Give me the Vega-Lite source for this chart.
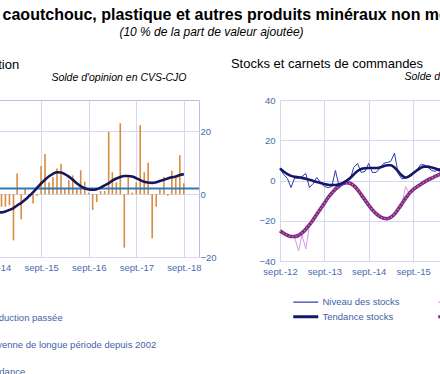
{
  "$schema": "https://vega.github.io/schema/vega-lite/v6.json",
  "background": "white",
  "padding": {"left": -167, "top": 6, "right": 0, "bottom": 0},
  "config": {
    "font": "Liberation Sans",
    "view": {"stroke": "#bdbde8", "strokeWidth": 1},
    "axis": {"gridColor": "#d6d6f3", "domain": false, "ticks": false, "labelColor": "#4a6aae", "labelFontSize": 9.5, "labelPadding": 5, "labelFont": "Liberation Sans"},
    "legend": {"labelColor": "#3f5fa6", "labelFontSize": 9.5, "labelFont": "Liberation Sans", "symbolType": "stroke", "symbolSize": 625, "padding": 0, "labelOffset": 5, "labelLimit": 300}
  },
  "title": {
    "text": "Produits en caoutchouc, plastique et autres produits minéraux non métalliques",
    "subtitle": "(10 % de la part de valeur ajoutée)",
    "anchor": "start", "align": "center", "dx": 378,
    "fontSize": 16, "fontWeight": "bold", "color": "black",
    "subtitleFontSize": 12, "subtitleFontStyle": "italic", "subtitleColor": "black", "subtitlePadding": 4,
    "offset": 20
  },
  "datasets": {
    "prod": [
      {"d": "2014-07-01", "p": -2, "t": -4.0},
      {"d": "2014-08-01", "p": 3, "t": -4.8},
      {"d": "2014-09-01", "p": -5, "t": -5.4},
      {"d": "2014-10-01", "p": 2, "t": -5.8},
      {"d": "2014-11-01", "p": -4, "t": -5.8},
      {"d": "2014-12-01", "p": -4, "t": -5.5},
      {"d": "2015-01-01", "p": -3.5, "t": -5.0},
      {"d": "2015-02-01", "p": -14.7, "t": -4.4},
      {"d": "2015-03-01", "p": 6.6, "t": -3.6},
      {"d": "2015-04-01", "p": -8, "t": -2.8},
      {"d": "2015-05-01", "p": 1.8, "t": -1.8},
      {"d": "2015-06-01", "p": -0.5, "t": -0.6},
      {"d": "2015-07-01", "p": -3, "t": 0.6},
      {"d": "2015-08-01", "p": -0.5, "t": 2.0},
      {"d": "2015-09-01", "p": 9, "t": 3.4},
      {"d": "2015-10-01", "p": 12.8, "t": 4.6},
      {"d": "2015-11-01", "p": 3.8, "t": 5.7},
      {"d": "2015-12-01", "p": 5.4, "t": 6.5},
      {"d": "2016-01-01", "p": 8.2, "t": 7.0},
      {"d": "2016-02-01", "p": 9.7, "t": 6.9},
      {"d": "2016-03-01", "p": 2, "t": 6.4},
      {"d": "2016-04-01", "p": 4.5, "t": 5.6},
      {"d": "2016-05-01", "p": 6, "t": 4.6},
      {"d": "2016-06-01", "p": 2, "t": 3.5},
      {"d": "2016-07-01", "p": 7.6, "t": 2.6},
      {"d": "2016-08-01", "p": 4, "t": 1.9},
      {"d": "2016-09-01", "p": 0.5, "t": 1.5},
      {"d": "2016-10-01", "p": -5, "t": 1.4},
      {"d": "2016-11-01", "p": -2.5, "t": 1.6},
      {"d": "2016-12-01", "p": 1, "t": 2.1},
      {"d": "2017-01-01", "p": 1, "t": 2.8},
      {"d": "2017-02-01", "p": 19.8, "t": 3.5},
      {"d": "2017-03-01", "p": 7, "t": 4.3},
      {"d": "2017-04-01", "p": 3.8, "t": 5.0},
      {"d": "2017-05-01", "p": 22.6, "t": 5.5},
      {"d": "2017-06-01", "p": -17, "t": 5.8},
      {"d": "2017-07-01", "p": 5.4, "t": 5.8},
      {"d": "2017-08-01", "p": 0.5, "t": 5.6},
      {"d": "2017-09-01", "p": 3.8, "t": 5.1},
      {"d": "2017-10-01", "p": 22, "t": 4.5},
      {"d": "2017-11-01", "p": 7, "t": 4.0},
      {"d": "2017-12-01", "p": 10, "t": 3.7},
      {"d": "2018-01-01", "p": -14, "t": 3.6},
      {"d": "2018-02-01", "p": -4, "t": 3.8},
      {"d": "2018-03-01", "p": 2, "t": 4.2},
      {"d": "2018-04-01", "p": 5.5, "t": 4.6},
      {"d": "2018-05-01", "p": -0.5, "t": 5.0},
      {"d": "2018-06-01", "p": 7.5, "t": 5.4},
      {"d": "2018-07-01", "p": 5.4, "t": 5.6},
      {"d": "2018-08-01", "p": 12.4, "t": 6.1},
      {"d": "2018-09-01", "p": 3.5, "t": 6.4}
    ],
    "moy": [{"m": 1.8}],
    "stk": [
      {"d": "2012-09-01", "ns": 6, "ts": 6, "nc": -26, "tc": -25},
      {"d": "2012-10-01", "ns": 3, "ts": 4.5, "nc": -26.5, "tc": -26.2},
      {"d": "2012-11-01", "ns": 1, "ts": 3.2, "nc": -27, "tc": -27.2},
      {"d": "2012-12-01", "ns": -3.5, "ts": 2.3, "nc": -27.5, "tc": -27.8},
      {"d": "2013-01-01", "ns": 1.5, "ts": 1.8, "nc": -28.5, "tc": -27.8},
      {"d": "2013-02-01", "ns": 1, "ts": 1.6, "nc": -35, "tc": -27.3},
      {"d": "2013-03-01", "ns": 2, "ts": 1.3, "nc": -27, "tc": -26},
      {"d": "2013-04-01", "ns": 3.5, "ts": 0.9, "nc": -34, "tc": -24.2},
      {"d": "2013-05-01", "ns": -3.5, "ts": 0.4, "nc": -22.5, "tc": -22},
      {"d": "2013-06-01", "ns": -1.5, "ts": -0.2, "nc": -20, "tc": -19.5},
      {"d": "2013-07-01", "ns": 1.5, "ts": -0.7, "nc": -16, "tc": -16.8},
      {"d": "2013-08-01", "ns": -1, "ts": -1.2, "nc": -14.5, "tc": -14},
      {"d": "2013-09-01", "ns": -3, "ts": -1.7, "nc": -11, "tc": -11.3},
      {"d": "2013-10-01", "ns": -3.5, "ts": -2.1, "nc": -9, "tc": -8.6},
      {"d": "2013-11-01", "ns": -3, "ts": -2.2, "nc": -6, "tc": -6.3},
      {"d": "2013-12-01", "ns": 5, "ts": -2.2, "nc": -4.5, "tc": -4.3},
      {"d": "2014-01-01", "ns": -3, "ts": -1.9, "nc": -2.5, "tc": -2.7},
      {"d": "2014-02-01", "ns": -2, "ts": -1.2, "nc": -2, "tc": -1.6},
      {"d": "2014-03-01", "ns": 0, "ts": -0.2, "nc": -0.8, "tc": -1.1},
      {"d": "2014-04-01", "ns": 0.5, "ts": 1.2, "nc": -0.5, "tc": -1.4},
      {"d": "2014-05-01", "ns": 6.5, "ts": 3.0, "nc": -3, "tc": -2.6},
      {"d": "2014-06-01", "ns": 8.5, "ts": 4.7, "nc": -4, "tc": -4.5},
      {"d": "2014-07-01", "ns": 4, "ts": 5.7, "nc": -7.5, "tc": -7},
      {"d": "2014-08-01", "ns": 4.5, "ts": 6.1, "nc": -9.5, "tc": -9.7},
      {"d": "2014-09-01", "ns": 8.5, "ts": 6.2, "nc": -12.5, "tc": -12.3},
      {"d": "2014-10-01", "ns": 4, "ts": 6.2, "nc": -14, "tc": -14.6},
      {"d": "2014-11-01", "ns": 4, "ts": 6.2, "nc": -17, "tc": -16.5},
      {"d": "2014-12-01", "ns": 6, "ts": 6.5, "nc": -17.5, "tc": -17.9},
      {"d": "2015-01-01", "ns": 8.5, "ts": 7.1, "nc": -19, "tc": -18.8},
      {"d": "2015-02-01", "ns": 9, "ts": 7.6, "nc": -19.5, "tc": -19},
      {"d": "2015-03-01", "ns": 9.5, "ts": 7.6, "nc": -17.5, "tc": -18.3},
      {"d": "2015-04-01", "ns": 13.6, "ts": 6.5, "nc": -16.5, "tc": -16.7},
      {"d": "2015-05-01", "ns": 3.5, "ts": 4.5, "nc": -14.5, "tc": -14.3},
      {"d": "2015-06-01", "ns": 0.8, "ts": 2.5, "nc": -12, "tc": -11.6},
      {"d": "2015-07-01", "ns": 1.2, "ts": 1.5, "nc": -3, "tc": -8.9},
      {"d": "2015-08-01", "ns": 2.5, "ts": 2.2, "nc": -6.5, "tc": -6.4},
      {"d": "2015-09-01", "ns": 4, "ts": 3.6, "nc": -4.5, "tc": -4.5},
      {"d": "2015-10-01", "ns": 5, "ts": 5.0, "nc": -3, "tc": -3.2},
      {"d": "2015-11-01", "ns": 7.8, "ts": 6.2, "nc": -2.5, "tc": -2},
      {"d": "2015-12-01", "ns": 7.8, "ts": 6.9, "nc": -1, "tc": -0.8},
      {"d": "2016-01-01", "ns": 6.5, "ts": 6.9, "nc": 0, "tc": 0.3},
      {"d": "2016-02-01", "ns": 5, "ts": 6.5, "nc": 1.5, "tc": 1.2},
      {"d": "2016-03-01", "ns": 4.5, "ts": 6.0, "nc": 2, "tc": 2.0},
      {"d": "2016-04-01", "ns": 6, "ts": 5.2, "nc": 2.5, "tc": 2.9},
      {"d": "2016-05-01", "ns": 5.5, "ts": 4.6, "nc": 4, "tc": 3.8},
      {"d": "2016-06-01", "ns": 5, "ts": 4.3, "nc": 4.5, "tc": 4.7},
      {"d": "2016-07-01", "ns": 6, "ts": 4.2, "nc": 5.5, "tc": 5.4},
      {"d": "2016-08-01", "ns": 5, "ts": 4.3, "nc": 6, "tc": 6}
    ],
    "foot": [{"y": 0}]
  },
  "spacing": 29,
  "resolve": {"scale": {"color": "independent", "x": "independent", "y": "independent"}, "legend": {"color": "independent"}},
  "vconcat": [
    {
      "spacing": 13,
      "resolve": {"scale": {"color": "independent", "x": "independent", "y": "independent"}, "legend": {"color": "independent"}},
      "hconcat": [
        {
          "width": 364,
          "height": 157,
          "title": {"text": "Production", "anchor": "start", "dx": 123, "fontSize": 13, "fontWeight": "normal", "color": "black", "offset": 0},
          "layer": [
            {
              "data": {"name": "prod"},
              "mark": {"type": "bar", "width": 1.6, "clip": true},
              "encoding": {
                "x": {"field": "d", "type": "temporal",
                  "scale": {"domain": ["2011-06-10", "2018-11-18"]},
                  "axis": {"title": null, "grid": true, "labelFlush": false, "labelOverlap": false,
                    "values": [{"year": 2012, "month": 9, "date": 1}, {"year": 2013, "month": 9, "date": 1}, {"year": 2014, "month": 9, "date": 1}, {"year": 2015, "month": 9, "date": 1}, {"year": 2016, "month": 9, "date": 1}, {"year": 2017, "month": 9, "date": 1}, {"year": 2018, "month": 9, "date": 1}],
                    "labelExpr": "'sept.-' + timeFormat(datum.value, '%y')"}},
                "y": {"field": "p", "type": "quantitative",
                  "scale": {"domain": [-20, 30], "nice": false},
                  "axis": {"orient": "right", "values": [-20, -10, 0, 10, 20, 30], "grid": true, "labelPadding": 1,
                    "title": "Solde d'opinion en CVS-CJO", "titleAngle": 0, "titleAlign": "right", "titleBaseline": "middle",
                    "titleX": -13, "titleY": -23, "titleFontSize": 10.5, "titleFontStyle": "italic", "titleFontWeight": "normal", "titleColor": "black"}},
                "color": {"datum": "Production passée", "type": "nominal",
                  "scale": {"domain": ["Production passée", "Moyenne de longue période depuis 2002", "Tendance"], "range": ["#d98b3f", "#2f7ab8", "#17175e"]},
                  "legend": {"orient": "none", "legendX": 132, "legendY": 196.5, "direction": "vertical", "title": null, "symbolSize": 100, "rowPadding": 1,
                    "encode": {"labels": {"update": {"dy": {"value": 15}}}}}}
              }
            },
            {
              "data": {"name": "moy"},
              "mark": {"type": "rule", "strokeWidth": 2},
              "encoding": {
                "y": {"field": "m", "type": "quantitative"},
                "color": {"datum": "Moyenne de longue période depuis 2002", "type": "nominal"}
              }
            },
            {
              "data": {"name": "prod"},
              "mark": {"type": "line", "strokeWidth": 2.6, "interpolate": "monotone", "clip": true},
              "encoding": {
                "x": {"field": "d", "type": "temporal"},
                "y": {"field": "t", "type": "quantitative"},
                "color": {"datum": "Tendance", "type": "nominal"}
              }
            }
          ]
        },
        {
          "width": 281,
          "height": 161,
          "title": {"text": "Stocks et carnets de commandes", "anchor": "start", "dx": -28, "fontSize": 13, "fontWeight": "normal", "color": "black", "offset": 0},
          "data": {"name": "stk"},
          "encoding": {
            "x": {"field": "d", "type": "temporal",
              "scale": {"domain": ["2012-09-01", "2018-12-31"]},
              "axis": {"title": null, "grid": true, "labelFlush": false, "labelOverlap": false,
                "values": [{"year": 2012, "month": 9, "date": 1}, {"year": 2013, "month": 9, "date": 1}, {"year": 2014, "month": 9, "date": 1}, {"year": 2015, "month": 9, "date": 1}, {"year": 2016, "month": 9, "date": 1}, {"year": 2017, "month": 9, "date": 1}, {"year": 2018, "month": 9, "date": 1}],
                "labelExpr": "'sept.-' + timeFormat(datum.value, '%y')"}}
          },
          "layer": [
            {
              "mark": {"type": "line", "strokeWidth": 1},
              "encoding": {
                "y": {"field": "nc", "type": "quantitative",
                  "scale": {"domain": [-40, 40], "nice": false},
                  "axis": {"orient": "left", "values": [-40, -30, -20, -10, 0, 10, 20, 30, 40], "grid": true,
                    "title": "Solde d'opinion en CVS-CJO", "titleAngle": 0, "titleAlign": "left", "titleBaseline": "middle",
                    "titleX": 124, "titleY": -23.7, "titleFontSize": 10.5, "titleFontStyle": "italic", "titleFontWeight": "normal", "titleColor": "black"}},
                "color": {"datum": "Carnets de commandes", "type": "nominal",
                  "scale": {"domain": ["Niveau des stocks", "Tendance stocks", "Carnets de commandes", "Tendance carnets"], "range": ["#2a3aaa", "#16166b", "#d39be3", "#7e2a7e"]},
                  "legend": {"orient": "none", "legendX": 21, "legendY": 197, "direction": "vertical", "columns": 2, "title": null, "columnPadding": 32, "rowPadding": 3, "labelOffset": 12,
                    "encode": {"symbols": {"update": {"strokeWidth": {"signal": "indexof(['Tendance stocks','Tendance carnets'], datum.value) >= 0 ? 3 : 1.2"}}}}}}
              }
            },
            {
              "mark": {"type": "line", "strokeWidth": 3.6, "interpolate": "monotone"},
              "encoding": {
                "y": {"field": "tc", "type": "quantitative"},
                "color": {"datum": "Tendance carnets", "type": "nominal"}
              }
            },
            {
              "mark": {"type": "line", "strokeWidth": 1.4, "strokeDash": [1.2, 2.2], "color": "#c97ccb", "interpolate": "monotone"},
              "encoding": {
                "y": {"field": "tc", "type": "quantitative"}
              }
            },
            {
              "mark": {"type": "line", "strokeWidth": 1},
              "encoding": {
                "y": {"field": "ns", "type": "quantitative"},
                "color": {"datum": "Niveau des stocks", "type": "nominal"}
              }
            },
            {
              "mark": {"type": "line", "strokeWidth": 2.6, "interpolate": "monotone"},
              "encoding": {
                "y": {"field": "ts", "type": "quantitative"},
                "color": {"datum": "Tendance stocks", "type": "nominal"}
              }
            }
          ]
        }
      ]
    },
    {
      "width": 700,
      "height": 1,
      "view": {"stroke": null},
      "data": {"name": "foot"},
      "mark": {"type": "rule", "color": "black", "strokeWidth": 1.2},
      "encoding": {"y": {"field": "y", "type": "quantitative", "axis": null}},
      "title": {"text": "Source : Banque de France – Enquête mensuelle de conjoncture publiée le 8 octobre 2018", "orient": "bottom", "anchor": "start", "dx": 8.5, "dy": -26.5, "fontSize": 9.4, "fontWeight": "normal", "color": "black", "offset": 4}
    }
  ]
}
